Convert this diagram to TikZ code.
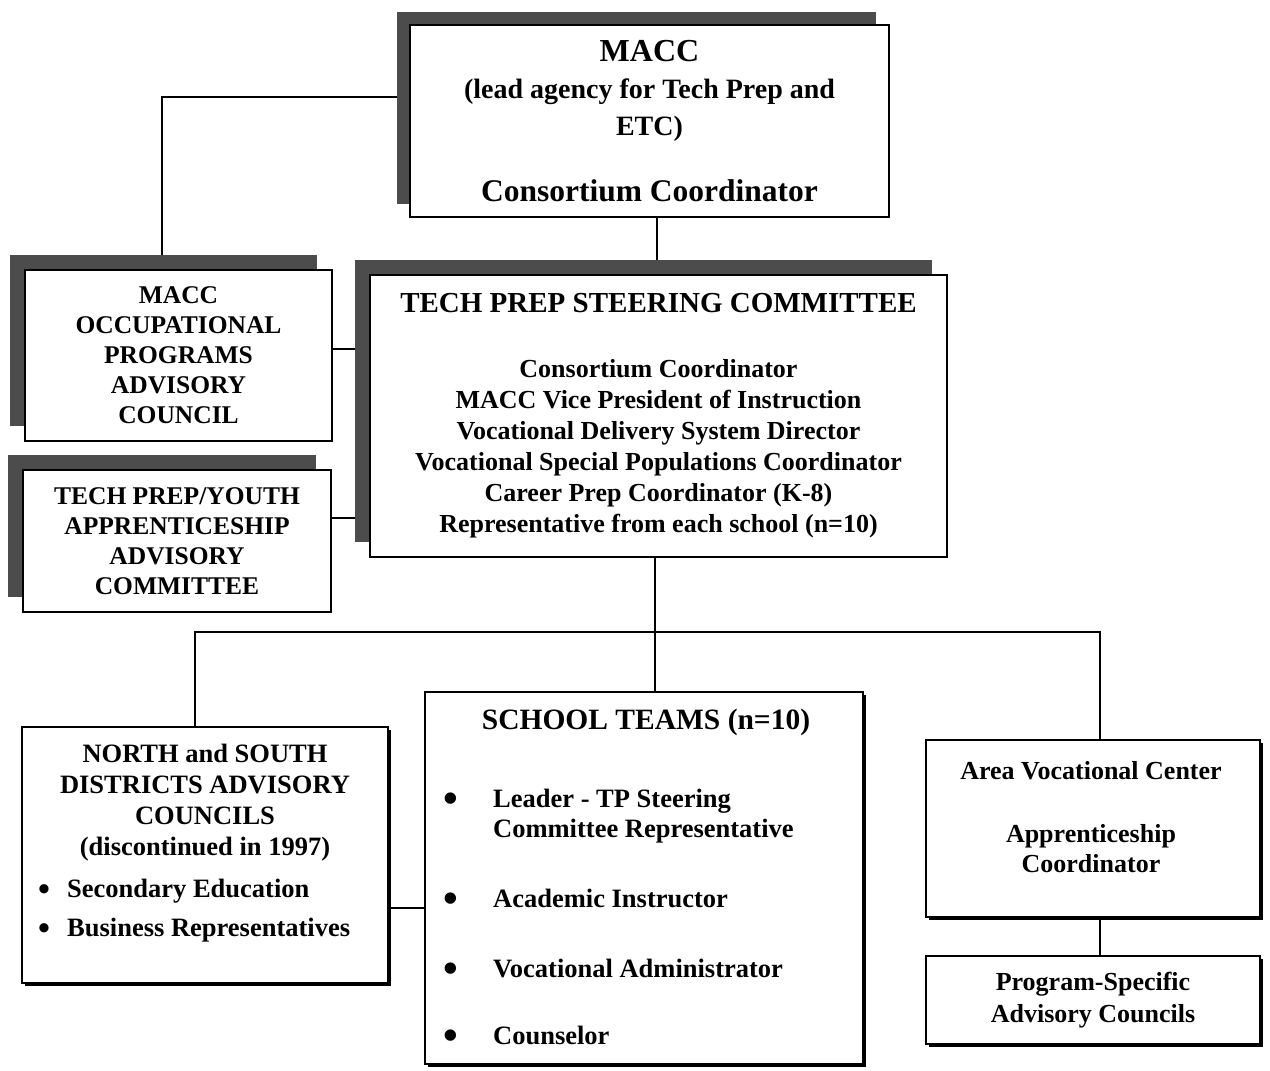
\documentclass[tikz,border=0pt]{standalone}
\usepackage{fontspec}
\setmainfont{Liberation Serif}
\usetikzlibrary{shadows,backgrounds}
\tikzset{
  box/.style={draw, line width=1.6pt, fill=white, align=center, inner sep=0pt},
  bigshadow/.style={copy shadow={shadow xshift=-#1, shadow yshift=#1, fill=black!70, draw=none}},
  smallshadow/.style={copy shadow={shadow xshift=2.5pt, shadow yshift=-2.5pt, fill=black, draw=none}},
  conn/.style={line width=1.5pt},
  lbl/.style={inner sep=0pt, align=center},
}
\newcommand{\bigbul}{\raisebox{-5pt}{\fontsize{42}{30}\selectfont •}}
\newcommand{\midbul}{\raisebox{-3pt}{\fontsize{34}{39}\selectfont •}}
\begin{document}
\begin{tikzpicture}[x=1pt,y=-1pt]
\useasboundingbox (0,0) rectangle (1270,1071);

% top box
\node[box, bigshadow=13pt, minimum width=479pt, minimum height=192pt,
      font=\bfseries\fontsize{28}{37}\selectfont] (macc) at (649.5,121)
  {\fontsize{32}{37}\selectfont MACC\\(lead agency for Tech Prep and\\ETC)\\[29pt]\fontsize{31.5}{37}\selectfont Consortium Coordinator};

% steering committee
\node[box, bigshadow=15pt, minimum width=577pt, minimum height=282pt,
      font=\bfseries\fontsize{26}{31}\selectfont] (tp) at (658.5,416)
  {\fontsize{29}{31}\selectfont TECH PREP STEERING COMMITTEE\\[34pt]
   Consortium Coordinator\\
   MACC Vice President of Instruction\\
   Vocational Delivery System Director\\
   Vocational Special Populations Coordinator\\
   Career Prep Coordinator (K-8)\\
   Representative from each school (n=10)};

% left advisory boxes
\node[box, bigshadow=15pt, minimum width=307pt, minimum height=171pt,
      font=\bfseries\fontsize{25.5}{30}\selectfont] (occ) at (178.5,355.5)
  {MACC\\OCCUPATIONAL\\PROGRAMS\\ADVISORY\\COUNCIL};
\node[box, bigshadow=15pt, minimum width=308pt, minimum height=142pt,
      font=\bfseries\fontsize{25.5}{30}\selectfont] (tpy) at (177,541)
  {TECH PREP/YOUTH\\APPRENTICESHIP\\ADVISORY\\COMMITTEE};

% bottom row
\node[box, smallshadow, minimum width=366pt, minimum height=256pt] (north) at (205,855) {};
\node[lbl, font=\bfseries\fontsize{26.5}{31}\selectfont] (northT) at (205,803)
  {NORTH and SOUTH\\DISTRICTS ADVISORY\\COUNCILS\\(discontinued in 1997)};
\node[lbl, anchor=west, font=\bfseries\fontsize{26.5}{39}\selectfont] (northL) at (38,908.7)
  {\begin{tabular}{@{}l@{}l@{}}
   \makebox[29pt][l]{\midbul} & Secondary Education\\
   \makebox[29pt][l]{\midbul} & Business Representatives
   \end{tabular}};

\node[box, smallshadow, minimum width=438pt, minimum height=372pt] (school) at (644,878) {};
\node[lbl, font=\bfseries\fontsize{29.5}{31}\selectfont] (schoolT) at (646,722) {SCHOOL TEAMS (n=10)};
\node[lbl, anchor=west, font=\bfseries\fontsize{26.5}{30}\selectfont] (schoolL) at (443,919.5)
  {\begin{tabular}{@{}l@{}l@{}}
   \makebox[50pt][l]{\bigbul} & Leader - TP Steering\\
   & Committee Representative\\[40pt]
   \makebox[50pt][l]{\bigbul} & Academic Instructor\\[40pt]
   \makebox[50pt][l]{\bigbul} & Vocational Administrator\\[37pt]
   \makebox[50pt][l]{\bigbul} & Counselor
   \end{tabular}};

\node[box, smallshadow, minimum width=334pt, minimum height=177pt] (area) at (1093,828.5) {};
\node[lbl, font=\bfseries\fontsize{26}{30}\selectfont] (areaT) at (1091,817.5)
  {Area Vocational Center\\[33pt]Apprenticeship\\Coordinator};

\node[box, smallshadow, minimum width=334pt, minimum height=88pt,
      font=\bfseries\fontsize{26}{32}\selectfont] (prog) at (1093,1000)
  {Program-Specific\\Advisory Councils};

% connectors
\begin{scope}[on background layer]
  \fill[white] (0,0) rectangle (1270,1071);
  \draw[conn] ([yshift=24pt]macc.west) -| ([xshift=-16.5pt]occ.north);
  \draw[conn] ([xshift=7.5pt]macc.south) -- ([xshift=7.5pt]macc.south |- tp.north);
  \draw[conn] ([yshift=6.5pt]occ.east) -- ([yshift=6.5pt]occ.east -| tp.west);
  \draw[conn] ([yshift=23pt]tpy.east) -- ([yshift=23pt]tpy.east -| tp.west);
  \coordinate (bus) at (655,632);
  \draw[conn] ([xshift=-3.5pt]tp.south) -- (bus);
  \draw[conn] ([xshift=-10pt]north.north) |- (bus) -| ([xshift=7pt]area.north);
  \draw[conn] (bus) -- (bus |- school.north);
  \draw[conn] ([yshift=-53pt]north.east) -- ([yshift=-53pt]north.east -| school.west);
  \draw[conn] ([xshift=7pt]area.south) -- ([xshift=7pt]area.south |- prog.north);
\end{scope}
\end{tikzpicture}
\end{document}
